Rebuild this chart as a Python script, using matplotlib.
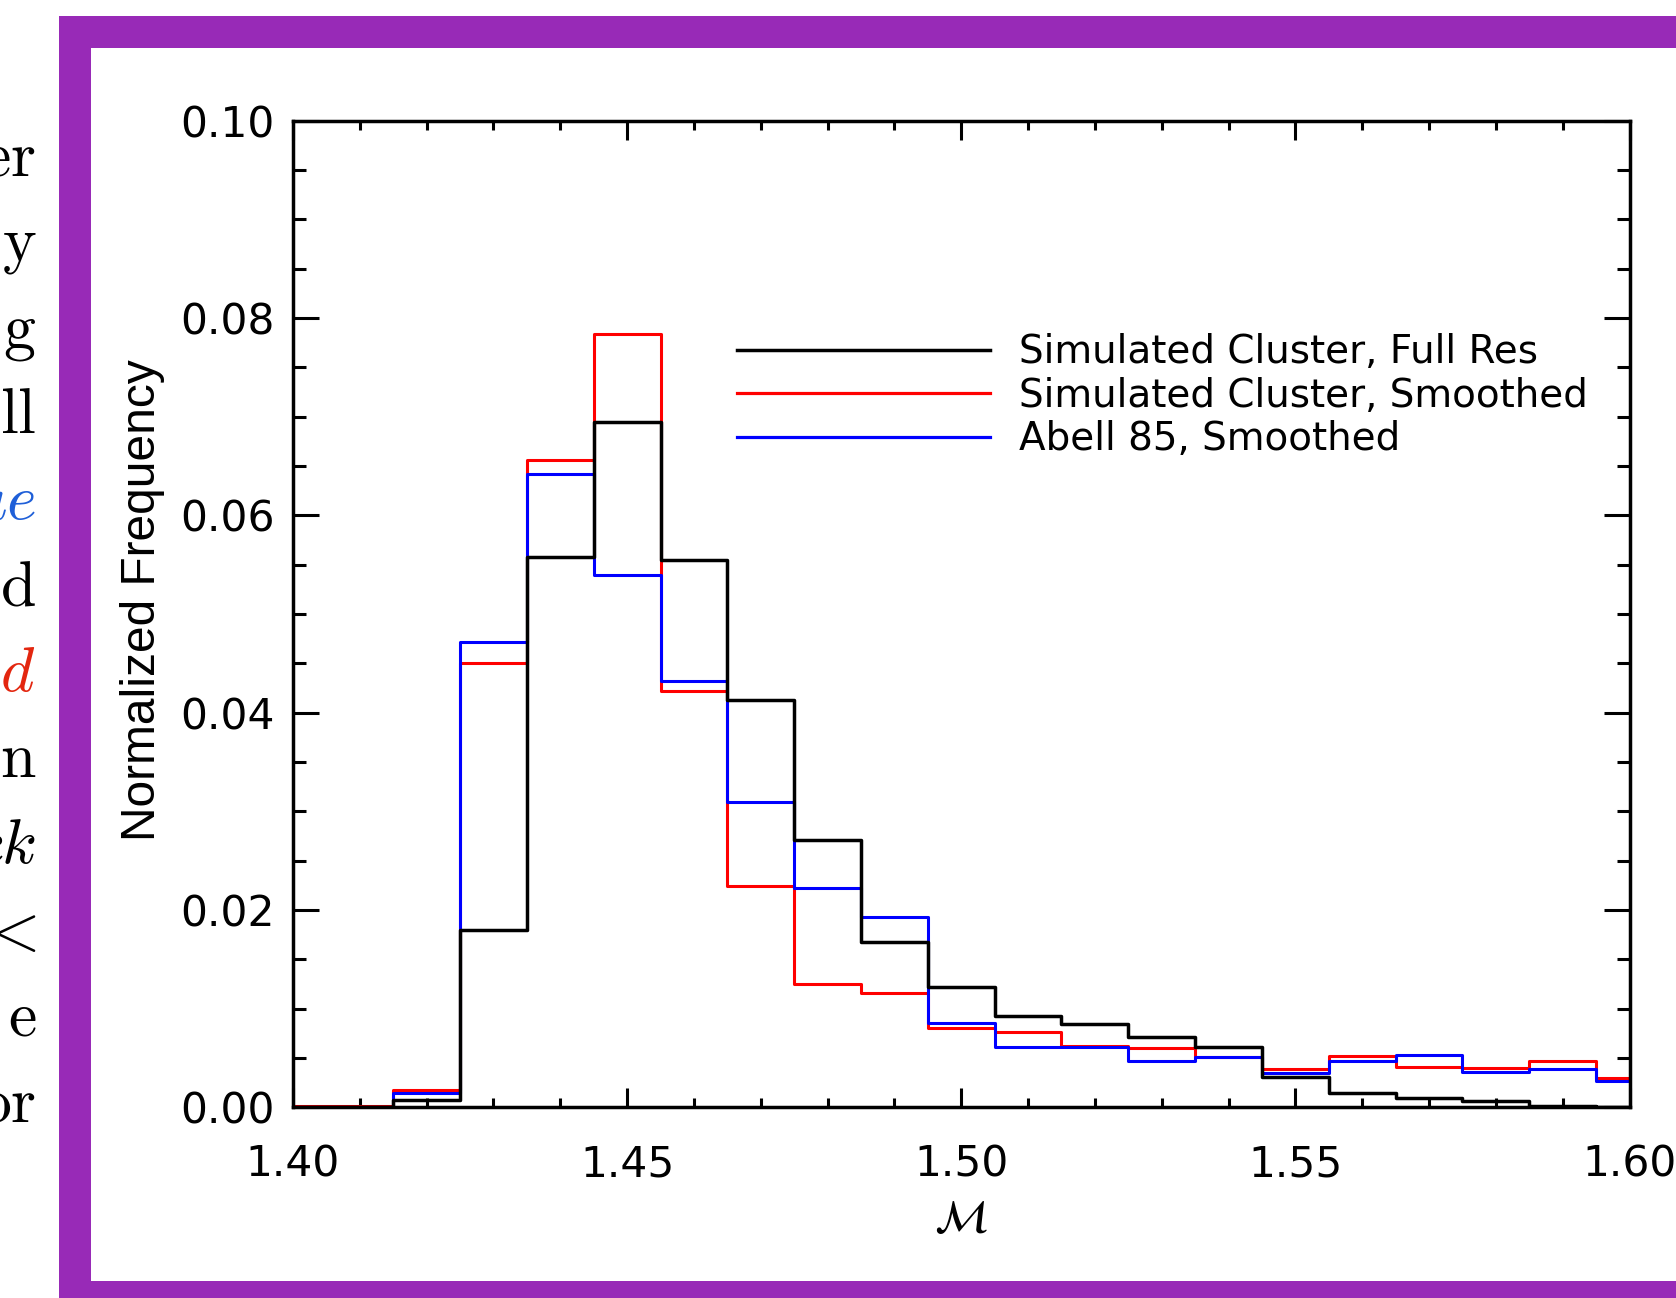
"""
Mach number histograms: simulated cluster (full res / smoothed) vs Abell 85.
"""

import matplotlib

matplotlib.use("Agg")
import matplotlib.pyplot as plt
from matplotlib.lines import Line2D
from matplotlib.patches import Rectangle
from matplotlib.ticker import FormatStrFormatter, MultipleLocator

# bin centres (IDL psym=10 style histogram)
mach_bins = [1.40, 1.41, 1.42, 1.43, 1.44, 1.45, 1.46, 1.47, 1.48, 1.49, 1.50,
             1.51, 1.52, 1.53, 1.54, 1.55, 1.56, 1.57, 1.58, 1.59, 1.60]

full_res = [0.0, 0.0, 0.0007, 0.0180, 0.0558, 0.0695, 0.0555, 0.0413, 0.0271,
            0.0168, 0.0122, 0.0093, 0.0084, 0.0071, 0.0061, 0.0031, 0.0015,
            0.0009, 0.0006, 0.0001, 0.0]
sim_smoothed = [0.0001, 0.0001, 0.0018, 0.0450, 0.0656, 0.0784, 0.0422, 0.0224,
                0.0125, 0.0116, 0.0080, 0.0076, 0.0062, 0.0060, 0.0051, 0.0039,
                0.0052, 0.0041, 0.0040, 0.0047, 0.0030]
abell_smoothed = [0.0, 0.0, 0.0014, 0.0472, 0.0642, 0.0540, 0.0432, 0.0309,
                  0.0222, 0.0193, 0.0085, 0.0061, 0.0061, 0.0047, 0.0051, 0.0035,
                  0.0047, 0.0053, 0.0036, 0.0039, 0.0027]

series_labels = ["Simulated Cluster, Full Res",
                 "Simulated Cluster, Smoothed",
                 "Abell 85, Smoothed"]

# cut-off words of the surrounding paper text (left margin of the screenshot)
side_words = [r"$\mathrm{er}$", r"$\mathrm{y}$", r"$\mathrm{g}$", r"$\mathrm{ll}$",
              r"$\mathit{blue}$", r"$\mathrm{d}$", r"$\mathit{red}$", r"$\mathrm{n}$",
              r"$\mathit{black}$", r"$<$", r"$\mathrm{e}$", r"$\mathrm{or}$"]
side_colors = ["black", "black", "black", "black", "#1f5fd8", "black",
               "#e3260f", "black", "black", "black", "black", "black"]

W, H = 1676, 1298
fig = plt.figure(figsize=(W / 100, H / 100), dpi=100)
fig.patch.set_facecolor("white")

# purple frame
fig.patches.append(Rectangle((59 / W, 0), 1.0, 1 - 16 / H, transform=fig.transFigure,
                             facecolor="#982ab7", edgecolor="none", zorder=-3))
fig.patches.append(Rectangle((91 / W, 17 / H), 1.0, 1 - 65 / H, transform=fig.transFigure,
                             facecolor="white", edgecolor="none", zorder=-2))

for i, (word, col) in enumerate(zip(side_words, side_colors)):
    fig.text(36 / W, 1 - (175 + 86 * i) / H, word, ha="right", va="baseline",
             fontsize=46, color=col, math_fontfamily="cm")

ax = fig.add_axes([293 / W, 190.7 / H, 1336.5 / W, 986.6 / H])
ax.set_facecolor("white")

ax.step(mach_bins, sim_smoothed, where="mid", color="#ff0000", lw=2.2)
ax.step(mach_bins, abell_smoothed, where="mid", color="#0000ff", lw=2.2)
ax.step(mach_bins, full_res, where="mid", color="black", lw=2.5)

ax.set_xlim(1.40, 1.60)
ax.set_ylim(0.0, 0.10)
ax.xaxis.set_major_locator(MultipleLocator(0.05))
ax.xaxis.set_minor_locator(MultipleLocator(0.01))
ax.yaxis.set_major_locator(MultipleLocator(0.02))
ax.yaxis.set_minor_locator(MultipleLocator(0.005))
ax.xaxis.set_major_formatter(FormatStrFormatter("%.2f"))
ax.yaxis.set_major_formatter(FormatStrFormatter("%.2f"))

ax.tick_params(which="both", direction="in", top=True, right=True, width=2.2,
               labelsize=30.5, colors="black")
ax.tick_params(axis="x", which="major", length=13.7, pad=26)
ax.tick_params(axis="x", which="minor", length=6.5)
ax.tick_params(axis="y", which="major", length=18.7, pad=13)
ax.tick_params(axis="y", which="minor", length=9.4)
for spine in ax.spines.values():
    spine.set_linewidth(2.5)

ax.set_ylabel("Normalized Frequency", fontsize=34.5, family="Liberation Sans")
ax.yaxis.set_label_coords(-0.0958, 0.5137)
ax.set_xlabel(r"$\mathcal{M}$", fontsize=33, math_fontfamily="stix")
ax.xaxis.set_label_coords(0.5, -0.091)

handles = [Line2D([], [], color="black", lw=2.5),
           Line2D([], [], color="#ff0000", lw=2.3),
           Line2D([], [], color="#0000ff", lw=2.3)]
ax.legend(handles, series_labels, loc="upper left", bbox_to_anchor=(0.3322, 0.7845),
          frameon=False, fontsize=28, handlelength=6.5, handletextpad=0.74,
          labelspacing=0.14, borderpad=0, borderaxespad=0)

fig.savefig("out.png", dpi=100, facecolor="white")
plt.close(fig)
